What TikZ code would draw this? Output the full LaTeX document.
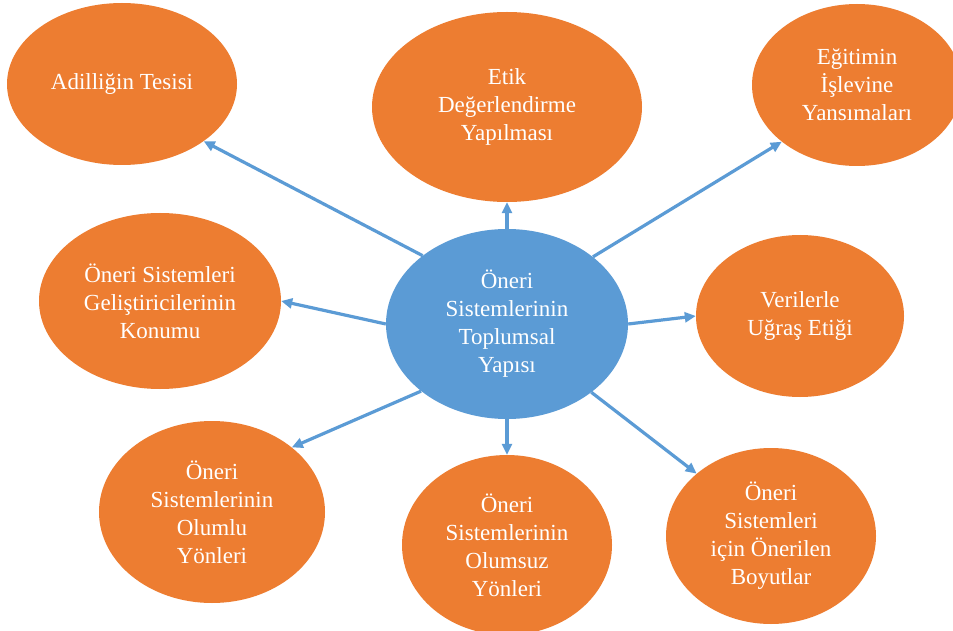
\documentclass[tikz,border=0pt]{standalone}
\usepackage{fontspec}
\setmainfont{Liberation Serif}
\usetikzlibrary{shapes.geometric,arrows.meta}
\definecolor{topicorange}{HTML}{ED7D31}
\definecolor{hubblue}{HTML}{5B9BD5}
\tikzset{
  bubble/.style={ellipse, inner sep=0pt, text=white, align=center,
                 font=\fontsize{23}{28}\selectfont},
  topic/.style={bubble, fill=topicorange},
  hub/.style={bubble, fill=hubblue},
  link/.style={draw=hubblue, line width=3.2pt,
               -{Triangle[length=11pt,width=10pt]}}
}
\begin{document}
\begin{tikzpicture}[x=1pt,y=-1pt]
  % canvas
  \fill[white] (0,0) rectangle (953,631);
  \useasboundingbox (0,0) rectangle (953,631);

  % central topic
  \node[hub, minimum width=242pt, minimum height=190pt] (hub) at (507,324)
    {Öneri\\Sistemlerinin\\Toplumsal\\Yapısı};

  % surrounding topics
  \node[topic, minimum width=230pt, minimum height=162pt] (adil) at (122,84)
    {Adilliğin Tesisi};
  \node[topic, minimum width=270pt, minimum height=190pt] (etik) at (507,107)
    {Etik\\Değerlendirme\\Yapılması};
  \node[topic, minimum width=210pt, minimum height=162pt] (egitim) at (857,85)
    {Eğitimin\\İşlevine\\Yansımaları};
  \node[topic, minimum width=242pt, minimum height=176pt] (konum) at (160,301)
    {Öneri Sistemleri\\Geliştiricilerinin\\Konumu};
  \node[topic, minimum width=208pt, minimum height=162pt] (veri) at (800,316)
    {Verilerle\\Uğraş Etiği};
  \node[topic, minimum width=226pt, minimum height=182pt] (olumlu) at (212,512)
    {Öneri\\Sistemlerinin\\Olumlu\\Yönleri};
  \node[topic, minimum width=210pt, minimum height=180pt] (olumsuz) at (507,545)
    {Öneri\\Sistemlerinin\\Olumsuz\\Yönleri};
  \node[topic, minimum width=210pt, minimum height=176pt] (boyut) at (771,536)
    {Öneri\\Sistemleri\\için Önerilen\\Boyutlar};

  % arrows from the centre outwards
  \draw[link] (hub.141.6) -- (adil.325.7);
  \draw[link] (hub.north) -- (etik.south);
  \draw[link] (hub.38.7)  -- (egitim.217.2);
  \draw[link] (hub.west)  -- (konum.east);
  \draw[link] (hub.east)  -- (veri.west);
  \draw[link] (hub.218.4) -- (olumlu.39.1);
  \draw[link] (hub.south) -- (olumsuz.north);
  \draw[link] (hub.321.3) -- (boyut.140);
\end{tikzpicture}
\end{document}
